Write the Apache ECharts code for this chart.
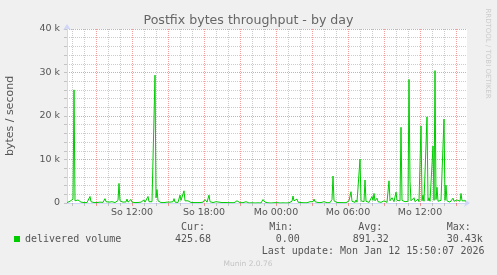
<!DOCTYPE html>
<html><head><meta charset="utf-8">
<script src="https://cdn.jsdelivr.net/npm/echarts@6/dist/echarts.min.js"></script>
<style>html,body{margin:0;padding:0;background:#f0f0f0}#c{width:497px;height:275px}</style>
</head><body><div id="c"></div><script>
const chartTitle = 'Postfix bytes throughput - by day';
const yName = 'bytes / second';
const seriesName = 'delivered volume';
const startMinute = 395;   // So 06:35
const stepMinutes = 5;
const slotCount = 401;
const dayNames = ['So', 'Mo'];
const yTicks = [0, 10000, 20000, 30000, 40000];
const yTickLabels = ['0', '10 k', '20 k', '30 k', '40 k'];
// bytes/second, one sample per 5 minutes
const values = [
  100,150,300,400,150,200,900,26000,500,700,300,700,400,600,200,100,150,100,400,300,
  100,120,300,1500,300,100,150,100,120,150,100,130,100,200,120,100,150,300,1000,300,
  200,700,200,120,100,300,120,200,100,120,100,600,4500,500,150,100,200,100,120,250,
  900,200,100,150,800,200,100,120,100,300,100,120,100,100,200,120,250,700,200,100,
  300,1500,300,100,120,300,100,400,29400,1200,3100,500,150,200,100,500,200,100,150,500,
  200,100,120,200,100,200,300,1000,200,100,100,120,400,1800,600,1000,300,2800,500,200,
  100,500,200,100,120,300,100,100,120,100,100,120,300,100,100,120,200,300,800,400,
  200,300,1800,300,100,200,100,100,120,300,100,100,200,100,300,100,200,100,120,300,
  100,80,100,100,80,60,80,60,80,200,500,300,100,80,100,60,80,100,300,300,
  100,60,0,60,0,60,0,40,0,60,0,40,0,60,0,200,800,500,200,60,
  0,40,0,40,0,40,0,60,100,300,80,0,40,0,40,0,40,0,60,0,
  40,0,60,0,100,400,1600,500,200,400,900,200,80,60,100,300,80,60,0,100,
  60,0,100,300,200,80,300,900,300,100,300,100,300,100,100,80,100,300,200,80,
  60,80,100,80,100,800,6200,500,100,300,100,80,60,100,300,100,80,60,100,80,
  60,150,500,800,2600,400,100,300,150,700,200,100,400,10100,500,200,800,300,5300,400,
  200,500,150,300,400,1500,600,2200,500,300,1100,300,150,400,150,200,100,500,900,300,
  150,600,5100,500,300,1200,800,300,600,2500,600,200,150,500,17400,600,300,150,300,400,
  200,400,28400,5000,500,200,700,1200,300,400,200,900,300,500,17700,500,1800,400,800,300,
  19800,500,1200,400,700,300,13100,600,30430,800,3600,400,500,200,600,300,600,19300,600,4100,
  500,300,150,200,150,400,1100,400,200,300,700,300,1100,400,2200,500,700,300,500,426
];
const statHeaders = ['Cur:', 'Min:', 'Avg:', 'Max:'];
const statValues = ['425.68', '0.00', '891.32', '30.43k'];
const lastUpdate = 'Last update: Mon Jan 12 15:50:07 2026';
const credit = 'Munin 2.0.76';
const sideText = 'RRDTOOL / TOBI OETIKER';

const minutes = [];
const categories = [];
for (let i = 0; i < slotCount; i++) {
  const m = startMinute + i * stepMinutes;
  minutes.push(m);
  const d = Math.floor(m / 1440), r = m % 1440;
  const hh = String(Math.floor(r / 60)).padStart(2, '0');
  const mm = String(r % 60).padStart(2, '0');
  categories.push(dayNames[d] + ' ' + hh + ':' + mm);
}
const isHour = i => minutes[i] % 60 === 0;
const isMinor = i => isHour(i) && (minutes[i] / 60) % 3 !== 0;
const isMajor = i => isHour(i) && (minutes[i] / 60) % 3 === 0;
const isLabel = i => isHour(i) && (minutes[i] / 60) % 6 === 0;

const MONO = 'DejaVu Sans Mono';
const SANS = 'DejaVu Sans';
const TXT = '#555';
const RED = 'rgba(230,0,0,0.38)';
const GRAY = 'rgba(128,128,128,0.4)';
const AXIS = '#CFD6F8';

const statX = [181, 269.3, 358.3, 446.7];
const statValX = [175, 275.7, 352.7, 446.7];

const graphics = [
  {type: 'text', x: 10.5, y: 116, rotation: Math.PI / 2,
   style: {text: yName, fill: TXT, font: '11px ' + SANS, align: 'center', verticalAlign: 'middle'}},
  {type: 'text', x: 261.7, y: 251.5,
   style: {text: lastUpdate, fill: TXT, font: '10px ' + MONO, align: 'left', verticalAlign: 'middle'}},
  {type: 'text', x: 248, y: 264.5,
   style: {text: credit, fill: '#c4c4c4', font: '7.5px ' + SANS, align: 'center', verticalAlign: 'middle'}},
  {type: 'text', x: 487.5, y: 53.5, rotation: -Math.PI / 2,
   style: {text: sideText, fill: '#cccccc', font: '7px ' + SANS, align: 'center', verticalAlign: 'middle'}}
];
statHeaders.forEach((h, k) => graphics.push({type: 'text', x: statX[k], y: 227.7,
  style: {text: h, fill: TXT, font: '10px ' + MONO, align: 'left', verticalAlign: 'middle'}}));
statValues.forEach((v, k) => graphics.push({type: 'text', x: statValX[k], y: 239.5,
  style: {text: v, fill: TXT, font: '10px ' + MONO, align: 'left', verticalAlign: 'middle'}}));

const chart = echarts.init(document.getElementById('c'), null, {renderer: 'canvas'});
chart.setOption({
  backgroundColor: '#f0f0f0',
  animation: false,
  title: {text: chartTitle, left: 'center', top: 9,
    textStyle: {fontFamily: SANS, fontSize: 12.6, fontWeight: 'normal', color: '#666'}},
  grid: {left: 67, top: 29, width: 400, height: 174, show: true, backgroundColor: '#fff', borderWidth: 0},
  legend: {data: [seriesName], left: 14, top: 234, padding: 0, icon: 'rect', itemWidth: 6, itemHeight: 6,
    textStyle: {fontFamily: MONO, fontSize: 10, color: TXT}},
  xAxis: [
    {type: 'category', data: categories, boundaryGap: false, position: 'bottom',
     axisLine: {show: true, lineStyle: {color: AXIS, width: 1}, symbol: ['none', 'arrow'], symbolSize: [6, 6], symbolOffset: [0, 3]},
     axisTick: {show: true, interval: isMinor, length: 3, lineStyle: {color: GRAY}},
     axisLabel: {show: false},
     splitLine: {show: true, interval: isMinor, lineStyle: {color: GRAY, type: [1, 1], width: 1}}},
    {type: 'category', data: categories, boundaryGap: false, position: 'bottom',
     axisLine: {show: false},
     axisTick: {show: true, interval: isMajor, length: 3, lineStyle: {color: RED}},
     axisLabel: {show: true, interval: isLabel, margin: 5, fontFamily: SANS, fontSize: 9.5, color: TXT},
     splitLine: {show: true, interval: isMajor, lineStyle: {color: RED, type: [1, 1], width: 1}}}
  ],
  yAxis: {type: 'value', min: 0, max: 40000, interval: 2000,
    axisLine: {show: true, lineStyle: {color: AXIS, width: 1}, symbol: ['none', 'arrow'], symbolSize: [6, 6], symbolOffset: [0, 5]},
    axisTick: {show: true, length: 3, lineStyle: {color: GRAY}},
    axisLabel: {margin: 7, fontFamily: SANS, fontSize: 9.5, color: TXT,
      formatter: v => { const k = yTicks.indexOf(v); return k >= 0 ? yTickLabels[k] : ''; }},
    splitLine: {show: true, lineStyle: {color: [RED, GRAY, GRAY, GRAY, GRAY], type: [1, 1], width: 1}}},
  series: [{name: seriesName, type: 'line', data: values, xAxisIndex: 0, showSymbol: false, symbol: 'none',
    lineStyle: {color: '#00cc00', width: 1}, itemStyle: {color: '#00cc00'}, z: 5}],
  graphic: graphics
});
</script></body></html>
